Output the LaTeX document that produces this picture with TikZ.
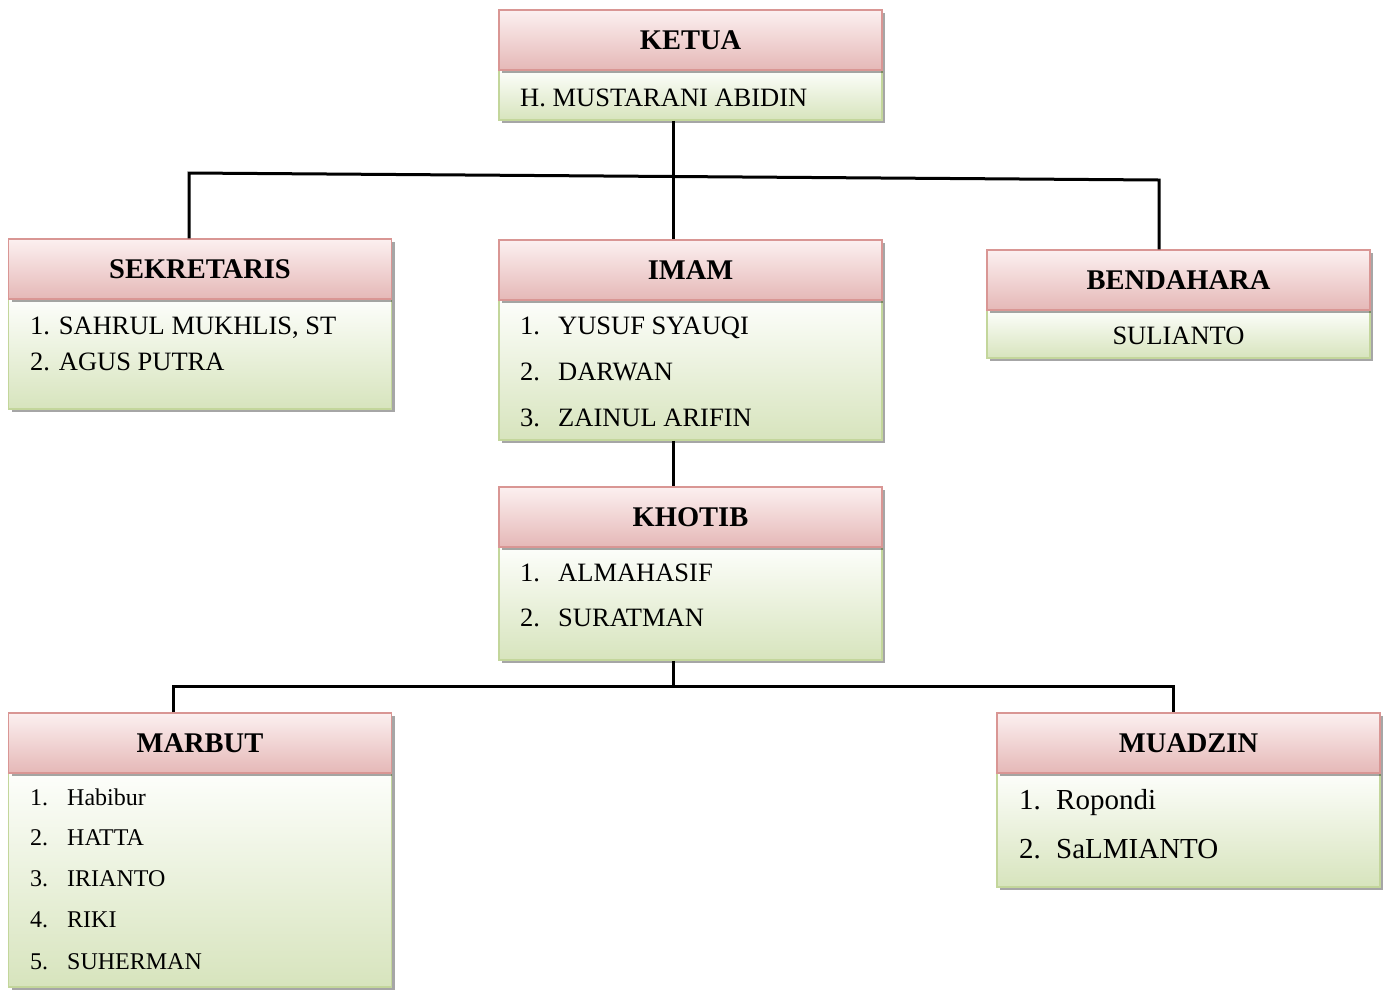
\documentclass[tikz,border=0pt]{standalone}
\usepackage{fontspec}
\setmainfont{Liberation Serif}
\usetikzlibrary{positioning,shadows}
\definecolor{merahatas}{HTML}{FCF0F0}
\definecolor{merahbawah}{HTML}{E5B8B7}
\definecolor{merahgaris}{HTML}{D99694}
\definecolor{hijauatas}{HTML}{FDFEFB}
\definecolor{hijaubawah}{HTML}{D7E4BD}
\definecolor{hijaugaris}{HTML}{C3D69B}

\begin{document}
\begin{tikzpicture}[x=1pt,y=-1pt]
% Styles
\tikzstyle{kotak}=[rectangle,draw,line width=1.5pt,minimum width=383pt,inner sep=0pt,
  drop shadow={shadow xshift=3pt,shadow yshift=-3pt,fill=black,opacity=.35}]
\tikzstyle{kepala}=[kotak,draw=merahgaris,top color=merahatas,bottom color=merahbawah,
  minimum height=60pt,font=\fontsize{28.5}{34}\selectfont\bfseries]
\tikzstyle{isi}=[kotak,draw=hijaugaris,top color=hijauatas,bottom color=hijaubawah]
\tikzstyle{teks}=[anchor=west,inner sep=0pt,text height=.66em,text depth=0pt,
  font=\fontsize{26.5}{32}\selectfont]
\tikzstyle{teksk}=[teks,font=\fontsize{24}{28}\selectfont]
\tikzstyle{teksb}=[teks,font=\fontsize{29}{34}\selectfont]
\tikzstyle{garis}=[line width=3pt]
% Dimensions
\def\Geser{-17pt}
\useasboundingbox (0,0) rectangle (1389,989);
% Kotak isi
\node[isi,minimum height=50pt]  (ketuaisi)  at (690.5,95)  {};
\node[isi,minimum height=110pt] (sekisi)    at (200,354)   {};
\node[isi,minimum height=140pt] (imamisi)   at (690.5,370) {};
\node[isi,minimum height=48pt]  (benisi)    at (1178.5,334) {};
\node[isi,minimum height=113pt] (khotibisi) at (690.5,603.5) {};
\node[isi,minimum height=214pt] (marbutisi) at (200,880)   {};
\node[isi,minimum height=114pt] (muadzinisi) at (1188.5,830) {};
% Kotak kepala
\node[kepala] (ketua)   at (690.5,40)  {KETUA};
\node[kepala] (sek)     at (200,269)   {SEKRETARIS};
\node[kepala] (imam)    at (690.5,270) {IMAM};
\node[kepala] (ben)     at (1178.5,280) {BENDAHARA};
\node[kepala] (khotib)  at (690.5,517) {KHOTIB};
\node[kepala] (marbut)  at (200,743)   {MARBUT};
\node[kepala] (muadzin) at (1188.5,743) {MUADZIN};
% Nama
\node[teks] (ketua1) at (520,103) {H. MUSTARANI ABIDIN};
\node[teks] (sek1) at (30,331) {1. SAHRUL MUKHLIS, ST};
\node[teks] (sek2) at (30,367) {2. AGUS PUTRA};
\node[teks] (imamn1) at (520,331) {1.};
\node[teks] (imam1)  at (558,331) {YUSUF SYAUQI};
\node[teks] (imamn2) at (520,377) {2.};
\node[teks] (imam2)  at (558,377) {DARWAN};
\node[teks] (imamn3) at (520,423) {3.};
\node[teks] (imam3)  at (558,423) {ZAINUL ARIFIN};
\node[teks,anchor=center] (ben1) at (1178.5,341) {SULIANTO};
\node[teks] (khotibn1) at (520,578) {1.};
\node[teks] (khotib1)  at (558,578) {ALMAHASIF};
\node[teks] (khotibn2) at (520,623) {2.};
\node[teks] (khotib2)  at (558,623) {SURATMAN};
\node[teksk] (marbutn1) at (30,802) {1.};
\node[teksk] (marbut1)  at (67,802) {Habibur};
\node[teksk] (marbutn2) at (30,842) {2.};
\node[teksk] (marbut2)  at (67,842) {HATTA};
\node[teksk] (marbutn3) at (30,883) {3.};
\node[teksk] (marbut3)  at (67,883) {IRIANTO};
\node[teksk] (marbutn4) at (30,924) {4.};
\node[teksk] (marbut4)  at (67,924) {RIKI};
\node[teksk] (marbutn5) at (30,966) {5.};
\node[teksk] (marbut5)  at (67,966) {SUHERMAN};
\node[teksb] (muadzinn1) at (1019,806) {1.};
\node[teksb] (muadzin1)  at (1056,806) {Ropondi};
\node[teksb] (muadzinn2) at (1019,855) {2.};
\node[teksb] (muadzin2)  at (1056,855) {SaLMIANTO};
% Garis
\coordinate (kiri) at (189,173);
\coordinate (kanan) at (1159,180);
\coordinate (bawahkiri) at (173,686);
\coordinate (bawahkanan) at (1173,686);
\draw[garis] ([xshift=\Geser]ketuaisi.south) -- ([xshift=\Geser]imam.north);
\draw[garis] (sek.north -| kiri) -- (kiri) -- (kanan) -- (ben.north -| kanan);
\draw[garis] ([xshift=\Geser]imamisi.south) -- ([xshift=\Geser]khotib.north);
\draw[garis] ([xshift=\Geser]khotibisi.south) -- ([xshift=\Geser]khotibisi.south |- bawahkiri);
\draw[garis] (marbut.north -| bawahkiri) -- (bawahkiri) -- (bawahkanan) -- (muadzin.north -| bawahkanan);
\end{tikzpicture}
\end{document}
